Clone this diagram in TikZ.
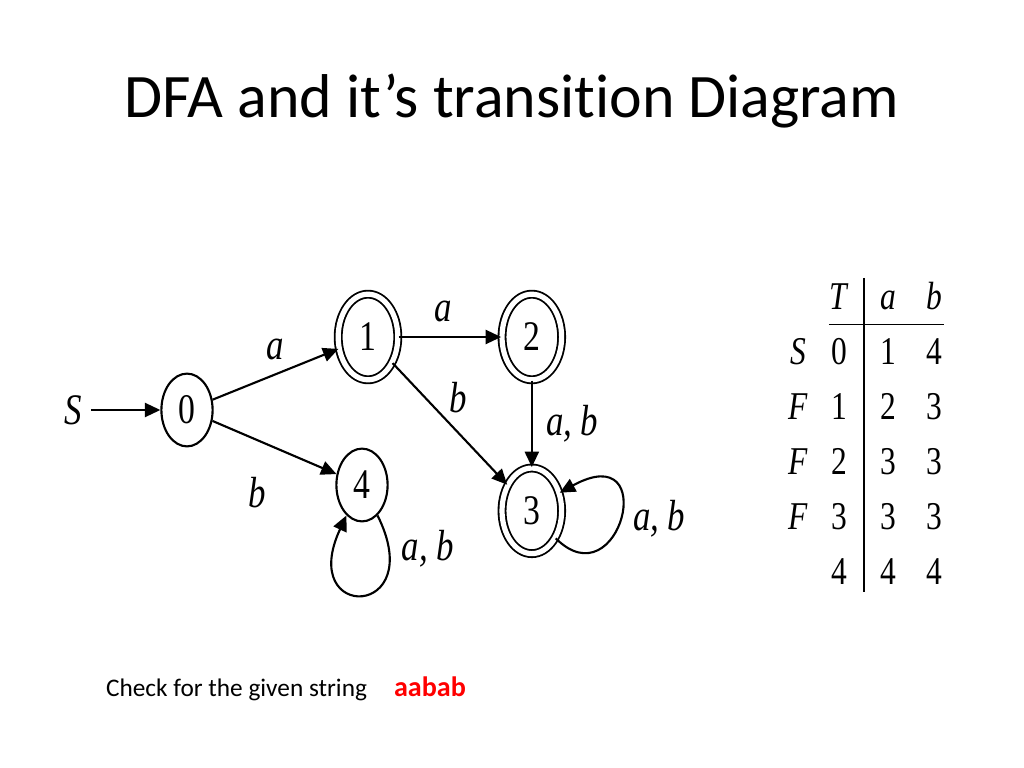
\documentclass[tikz,border=0pt]{standalone}
\usepackage{fontspec}
\usepackage{xcolor}
\usetikzlibrary{arrows.meta,positioning,shapes.geometric,matrix}

\newfontfamily\slidefont[Ligatures=NoCommon]{Carlito}
\newfontfamily\dfafont[FakeStretch=0.8]{Liberation Serif}
\newcommand{\statesize}{\dfafont\fontsize{30}{32}\selectfont}
\newcommand{\lblsize}{\dfafont\fontsize{31}{33}\selectfont\itshape}
\newcommand{\tabsize}{\dfafont\fontsize{28}{30}\selectfont}

\begin{document}
\begin{tikzpicture}[
    line width=1.5pt,
    state/.style={ellipse, draw, minimum width=1.28cm, minimum height=1.82cm, inner sep=0pt, font=\statesize},
    accept/.style={state, double, double distance=0.13cm, line width=1.3pt, minimum width=1.49cm, minimum height=2.14cm},
    arrow/.style={-{Triangle[length=11pt, width=10pt]}},
    lbl/.style={font=\lblsize, inner sep=0pt}
]
    \useasboundingbox (0,0) rectangle (25.6,-19.2);

    % Title
    \node[font=\slidefont\fontsize{44}{48}\selectfont, anchor=base] (title) at (12.8,-2.95) {DFA and it’s transition Diagram};

    % States
    \node[lbl] (start) at (1.82,-10.25) {S};
    \node[state] (q0) at (4.675,-10.25) {0};
    \node[accept] (q1) at (9.2,-8.425) {1};
    \node[accept, right=2.56cm of q1] (q2) {2};
    \node[accept, below=2.16cm of q2] (q3) {3};
    \node[state] (q4) at (9.05,-12.125) {4};

    % Transitions
    \draw[arrow, shorten <=0.22cm] (start) -- (q0);
    \draw[arrow] (q0) -- node[lbl, midway, above=0.34cm] {a} (q1);
    \draw[arrow] (q0) -- node[lbl, pos=0.36, below=0.9cm] {b} (q4);
    \draw[arrow] (q1) -- node[lbl, pos=0.43, above=0.35cm] {a} (q2);
    \draw[arrow] (q1) -- node[lbl, pos=0.42, above right=0cm and 0.2cm] {b} (q3);
    \draw[arrow] (q2) -- node[lbl, midway, right=0.33cm] {a, b} (q3);
    \draw[arrow] (q3.-49) .. controls +(1.6,-1.6) and +(2.55,1.4) .. (q3.33)
        node[lbl, pos=0.5, right=0.3cm] {a, b};
    \draw[arrow] (q4.-63) .. controls +(1.3,-2.6) and +(-1.25,-2.675) .. (q4.-117)
        node[lbl, pos=0.12, right=0.3cm] {a, b};

    % Transition table
    \matrix (tab) [matrix of nodes, inner sep=0pt, anchor=north west, column sep=0.025cm,
        nodes={font=\tabsize, minimum width=1cm, minimum height=1.375cm, text height=19pt, text depth=0pt, inner sep=0pt}]
        at (19.425,-6.6875) {
                   & \textit{T} &[0.2cm] \textit{a} &[0.125cm] \textit{b} \\
        \textit{S} & 0 & 1 & 4 \\
        \textit{F} & 1 & 2 & 3 \\
        \textit{F} & 2 & 3 & 3 \\
        \textit{F} & 3 & 3 & 3 \\
                   & 4 & 4 & 4 \\
    };
    \draw[line width=1pt, shorten <=0.26cm, shorten >=0.19cm] ([xshift=-0.08cm]tab-1-3.north west) -- ([xshift=-0.08cm]tab-6-3.south west);
    \draw[line width=1pt] ([xshift=0.27cm]tab-1-2.south west) -- ([xshift=-0.27cm]tab-1-4.south east);

    % String to check
    \node[font=\slidefont\fontsize{18}{22}\selectfont, inner sep=0pt, anchor=base west] (check) at (2.625,-17.4) {Check for the given string};
    \node[font=\slidefont\bfseries\fontsize{20}{24}\selectfont, text=red, inner sep=0pt, anchor=base west] (word) at (9.825,-17.4) {aabab};
\end{tikzpicture}
\end{document}
